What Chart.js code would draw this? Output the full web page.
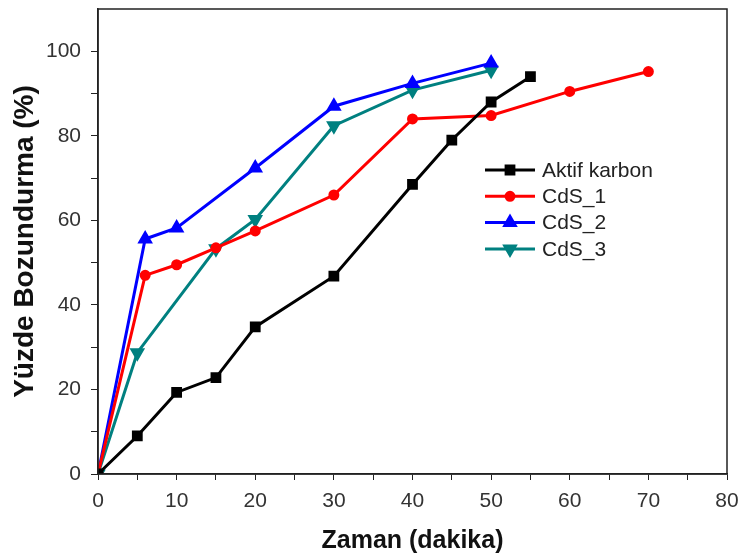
<!DOCTYPE html>
<html>
<head>
<meta charset="utf-8">
<script src="https://cdn.jsdelivr.net/npm/chart.js@4"></script>
<style>
  html, body { margin: 0; padding: 0; background: #fff; }
  #wrap { width: 738px; height: 557px; }
</style>
</head>
<body>
<div id="wrap"><canvas id="grafik"></canvas></div>
<script>
// Veriler
const aktifX = [0, 5, 10, 15, 20, 30, 40, 45, 50, 55];
const aktifY = [0, 9, 19.3, 22.8, 34.8, 46.8, 68.5, 79, 88, 94];

const cds1X = [0, 6, 10, 15, 20, 30, 40, 50, 60, 70];
const cds1Y = [0, 47, 49.5, 53.5, 57.5, 66, 84, 84.8, 90.5, 95.2];

const cds2X = [0, 6, 10, 20, 30, 40, 50];
const cds2Y = [0, 55.6, 58.2, 72.4, 87, 92.4, 97.2];

const cds3X = [0, 5, 15, 20, 30, 40, 50];
const cds3Y = [0, 28.7, 53.3, 60.2, 82.4, 90.8, 95.5];

const xTicks = [0, 10, 20, 30, 40, 50, 60, 70, 80];
const yTicks = [0, 20, 40, 60, 80, 100];

const FONT = '"Liberation Sans", Arial, sans-serif';

function noktalar(xs, ys) {
  return xs.map((x, i) => ({ x: x, y: ys[i] }));
}

// Grafik alanina cerceve ciz
const cerceve = {
  id: 'cerceve',
  afterDraw(chart) {
    const { ctx, chartArea: a } = chart;
    ctx.save();
    ctx.strokeStyle = '#222';
    ctx.lineWidth = 1.5;
    ctx.strokeRect(a.left, a.top, a.right - a.left, a.bottom - a.top);
    ctx.restore();
  }
};

// Grafik icinde legend
const icLegend = {
  id: 'icLegend',
  afterDraw(chart) {
    const { ctx } = chart;
    const x0 = 485, y0 = 170, satir = 26.3;
    ctx.save();
    ctx.font = '21px ' + FONT;
    ctx.textBaseline = 'middle';
    chart.data.datasets.forEach((ds, i) => {
      const y = y0 + i * satir;
      ctx.strokeStyle = ds.borderColor;
      ctx.lineWidth = 3;
      ctx.beginPath();
      ctx.moveTo(x0, y);
      ctx.lineTo(x0 + 50, y);
      ctx.stroke();
      ctx.fillStyle = ds.backgroundColor;
      Chart.helpers.drawPoint(ctx, {
        pointStyle: ds.pointStyle,
        radius: ds.pointRadius,
        rotation: ds.pointRotation || 0,
        borderWidth: 1
      }, x0 + 25, y);
      ctx.fill();
      ctx.fillStyle = '#222';
      ctx.fillText(ds.label, x0 + 57, y + 1);
    });
    ctx.restore();
  }
};

const ctx = document.getElementById('grafik').getContext('2d');
new Chart(ctx, {
  type: 'line',
  data: {
    datasets: [
      {
        label: 'Aktif karbon',
        data: noktalar(aktifX, aktifY),
        borderColor: '#000000',
        backgroundColor: '#000000',
        pointStyle: 'rect',
        pointRadius: 5.5,
        borderWidth: 3,
      },
      {
        label: 'CdS_1',
        data: noktalar(cds1X, cds1Y),
        borderColor: '#ff0000',
        backgroundColor: '#ff0000',
        pointStyle: 'circle',
        pointRadius: 4,
        borderWidth: 3,
      },
      {
        label: 'CdS_2',
        data: noktalar(cds2X, cds2Y),
        borderColor: '#0000ff',
        backgroundColor: '#0000ff',
        pointStyle: 'triangle',
        pointRadius: 6,
        borderWidth: 3,
      },
      {
        label: 'CdS_3',
        data: noktalar(cds3X, cds3Y),
        borderColor: '#008080',
        backgroundColor: '#008080',
        pointStyle: 'triangle',
        pointRotation: 180,
        pointRadius: 6,
        borderWidth: 3,
      },
    ],
  },
  options: {
    responsive: true,
    maintainAspectRatio: false,
    animation: false,
    layout: { padding: { top: 7, right: 11, left: 0, bottom: 0 } },
    plugins: {
      legend: { display: false },
      tooltip: { enabled: false },
    },
    scales: {
      x: {
        type: 'linear',
        min: 0,
        max: 80,
        afterBuildTicks: (axis) => {
          const t = [];
          for (let v = 0; v <= 80; v += 5) t.push({ value: v });
          axis.ticks = t;
        },
        afterFit: (axis) => {
          axis.height = 83;
          axis.paddingLeft = 0;
          axis.paddingRight = 0;
        },
        ticks: {
          color: '#333',
          font: { family: FONT, size: 21 },
          padding: 9,
          maxRotation: 0,
          autoSkip: false,
          callback: (v) => (xTicks.includes(v) ? v : ''),
        },
        grid: { drawOnChartArea: false, drawTicks: true, tickLength: 6, color: '#222' },
        border: { color: '#222', width: 1.5 },
        title: {
          display: true,
          text: 'Zaman (dakika)',
          color: '#111',
          font: { family: FONT, size: 25, weight: 'bold' },
          padding: { top: 0, bottom: 1 },
        },
      },
      y: {
        type: 'linear',
        min: 0,
        max: 110,
        afterBuildTicks: (axis) => {
          const t = [];
          for (let v = 0; v <= 100; v += 10) t.push({ value: v });
          axis.ticks = t;
        },
        afterFit: (axis) => {
          axis.width = 98;
          axis.paddingTop = 0;
          axis.paddingBottom = 0;
        },
        ticks: {
          color: '#333',
          font: { family: FONT, size: 21 },
          padding: 10,
          autoSkip: false,
          callback: (v) => (yTicks.includes(v) ? v : ''),
        },
        grid: { drawOnChartArea: false, drawTicks: true, tickLength: 7, color: '#222' },
        border: { color: '#222', width: 1.5 },
        title: {
          display: true,
          text: 'Yüzde Bozundurma (%)',
          color: '#111',
          font: { family: FONT, size: 28, weight: 'bold' },
          padding: { top: 8, bottom: 0 },
        },
      },
    },
  },
  plugins: [cerceve, icLegend],
});
</script>
</body>
</html>
